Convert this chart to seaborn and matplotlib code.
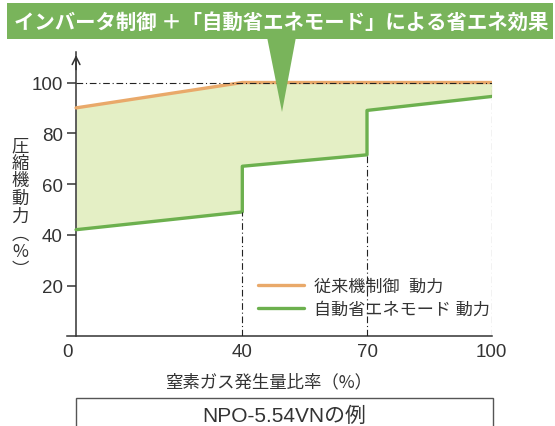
import numpy as np
import pandas as pd
import matplotlib
matplotlib.use("Agg")
import matplotlib.pyplot as plt
from matplotlib.patches import Rectangle, Polygon
from matplotlib.transforms import ScaledTranslation
import seaborn as sns

# ---- data ----
conv_x = [0, 40, 100]
conv_y = [90, 100, 100]
eco_x = [0, 40, 40, 70, 70, 100]
eco_y = [42, 49, 67, 71.5, 89, 94.5]
x_ticks = [0, 40, 70, 100]
y_ticks = [20, 40, 60, 80, 100]
conv_label = "従来機制御  動力"
eco_label = "自動省エネモード 動力"
title = "インバータ制御 ＋「自動省エネモード」による省エネ効果"
xlabel = "窒素ガス発生量比率（%）"
ylabel = "圧縮機動力︵%︶"
note = "NPO-5.54VNの例"

sns.set_theme(style="white")
plt.rcParams["font.family"] = ["Liberation Sans", "Noto Sans CJK JP", "DejaVu Sans"]

W, H = 555, 427
fig = plt.figure(figsize=(W / 100, H / 100), dpi=100)
def fx(px): return px / W
def fy(py): return 1 - py / H

ax = fig.add_axes([fx(66.7), fy(337.3), fx(491.7) - fx(66.7), (337.3 - 53.3) / H])

ORANGE = "#e9a96a"
GREEN = "#6cb04e"
FILL = "#e4efc5"
DARK = "#333333"

conv_df = pd.DataFrame({"x": conv_x, "y": conv_y})
eco_df = pd.DataFrame({"x": eco_x, "y": eco_y})

upper = np.interp(eco_x, conv_x, conv_y)
ax.fill_between(eco_x, eco_y, upper, color=FILL, lw=0, zorder=1)

sns.lineplot(data=conv_df, x="x", y="y", sort=False, estimator=None, ax=ax,
             color=ORANGE, lw=2.4, label=conv_label, zorder=3)
sns.lineplot(data=eco_df, x="x", y="y", sort=False, estimator=None, ax=ax,
             color=GREEN, lw=2.4, label=eco_label, zorder=3)

ds = (0, (6, 2.5, 1, 2.5))
ax.hlines(max(conv_y), 0, max(conv_x), colors="#222222", lw=0.8, linestyles=[ds], zorder=4)
# vertical guides to lower end of each step / end of range
vx = [40, 70, 100]
vtop = [min(y for x, y in zip(eco_x, eco_y) if x == v) if v != 100 else max(conv_y) for v in vx]
ax.vlines(vx, 0, vtop, colors="#222222", lw=0.8, linestyles=[ds], zorder=4)

ax.set_xlim(-2.25, 100)
ax.set_ylim(0, 111.9)
ax.spines["left"].set_position(("data", 0))
ax.spines["top"].set_visible(False)
ax.spines["right"].set_visible(False)
for s in ("left", "bottom"):
    ax.spines[s].set_color(DARK)
    ax.spines[s].set_linewidth(1.1)

ax.set_xticks(x_ticks)
ax.set_xticklabels([str(v) for v in x_ticks])
ax.set_yticks(y_ticks)
ax.set_yticklabels([str(v) for v in y_ticks])
ax.tick_params(axis="x", length=0, pad=5, labelsize=13.5, colors=DARK)
ax.tick_params(axis="y", length=6.5, width=1.1, direction="out", pad=3,
               labelsize=13.5, colors=DARK, left=True)
ax.set_xlabel("")
ax.set_ylabel("")
# the "0" label sits slightly left of the axis in the reference
lbl0 = ax.xaxis.get_major_ticks()[0].label1
lbl0.set_transform(lbl0.get_transform() + ScaledTranslation(-0.09, 0, fig.dpi_scale_trans))

# arrow on top of y axis
ax.annotate("", xy=(0, 111.9), xytext=(0, 104), xycoords="data",
            arrowprops=dict(arrowstyle="->", lw=1.1, color=DARK, mutation_scale=14),
            annotation_clip=False)

leg = ax.legend(loc="upper left", bbox_to_anchor=(fx(258), fy(280)),
                bbox_transform=fig.transFigure, frameon=False, fontsize=12.3,
                handlelength=2.7, handletextpad=0.55, labelspacing=0.42,
                borderpad=0, borderaxespad=0)
for t in leg.get_texts():
    t.set_color(DARK)
for l in leg.get_lines():
    l.set_linewidth(2.4)

# axis labels
fig.text(fx(269), fy(382), xlabel, ha="center", va="center", fontsize=12.5,
         color=DARK, family=["Noto Sans CJK JP"])
fig.text(fx(20), fy(208), "\n".join(ylabel), ha="center", va="center", fontsize=12.5,
         color=DARK, family=["Noto Sans CJK JP"], linespacing=0.98)

# title banner and pointer
fig.add_artist(Rectangle((fx(6.7), fy(40)), fx(552.7) - fx(6.7), 36 / H,
                         transform=fig.transFigure, facecolor="#79b45b", edgecolor="none", zorder=5))
fig.add_artist(Polygon([(fx(267), fy(38)), (fx(296), fy(38)), (fx(282), fy(113))],
                       closed=True, transform=fig.transFigure, facecolor="#79b45b",
                       edgecolor="none", zorder=5))
fig.text(fx(281), fy(22), title, ha="center", va="center", fontsize=14.7, color="white",
         fontweight="bold", family=["Noto Sans CJK JP"], zorder=6)

# bottom note box
fig.add_artist(Rectangle((fx(76), fy(440)), fx(492.7) - fx(76), (440 - 399) / H,
                         transform=fig.transFigure, facecolor="none", edgecolor="#555555",
                         lw=1.0, zorder=5))
fig.text(fx(284), fy(416), note, ha="center", va="center", fontsize=15, color=DARK,
         family=["Liberation Sans", "Noto Sans CJK JP"])

fig.savefig("out.png", dpi=100)
